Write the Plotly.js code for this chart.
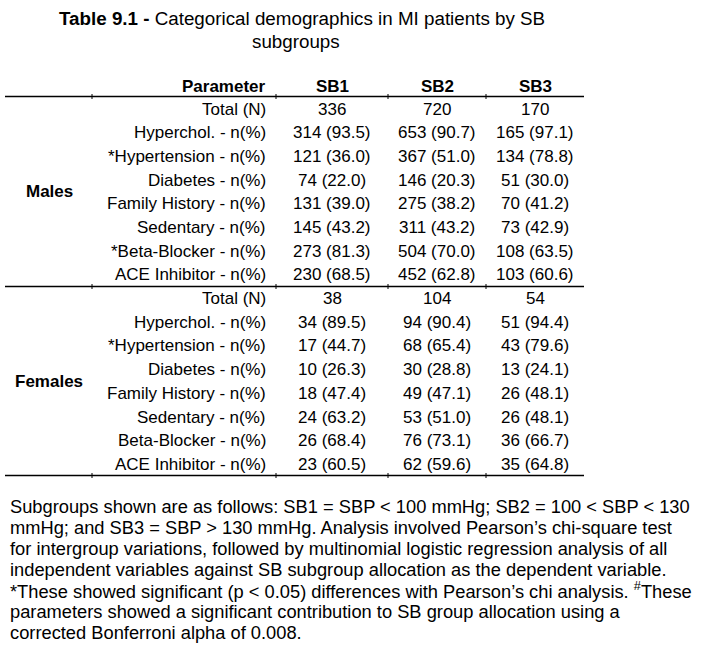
<!DOCTYPE html>
<html><head><meta charset="utf-8">
<script src="https://cdn.plot.ly/plotly-3.0.1.min.js"></script>
<style>body{margin:0;background:#fff}</style></head>
<body><div id="chart" style="width:708px;height:656px"></div>
<script>
const titleLine1 = "<b>Table 9.1 -</b> Categorical demographics in MI patients by SB";
const titleLine2 = "subgroups";
const columns = ["Parameter", "SB1", "SB2", "SB3"];
const groups = ["Males", "Females"];
const maleParams = ["Total (N)", "Hyperchol. - n(%)", "*Hypertension - n(%)", "Diabetes - n(%)", "Family History - n(%)", "Sedentary - n(%)", "*Beta-Blocker - n(%)", "ACE Inhibitor - n(%)"];
const femaleParams = ["Total (N)", "Hyperchol. - n(%)", "*Hypertension - n(%)", "Diabetes - n(%)", "Family History - n(%)", "Sedentary - n(%)", "Beta-Blocker - n(%)", "ACE Inhibitor - n(%)"];
const maleSB1 = ["336", "314 (93.5)", "121 (36.0)", "74 (22.0)", "131 (39.0)", "145 (43.2)", "273 (81.3)", "230 (68.5)"];
const maleSB2 = ["720", "653 (90.7)", "367 (51.0)", "146 (20.3)", "275 (38.2)", "311 (43.2)", "504 (70.0)", "452 (62.8)"];
const maleSB3 = ["170", "165 (97.1)", "134 (78.8)", "51 (30.0)", "70 (41.2)", "73 (42.9)", "108 (63.5)", "103 (60.6)"];
const femaleSB1 = ["38", "34 (89.5)", "17 (44.7)", "10 (26.3)", "18 (47.4)", "24 (63.2)", "26 (68.4)", "23 (60.5)"];
const femaleSB2 = ["104", "94 (90.4)", "68 (65.4)", "30 (28.8)", "49 (47.1)", "53 (51.0)", "76 (73.1)", "62 (59.6)"];
const femaleSB3 = ["54", "51 (94.4)", "43 (79.6)", "13 (24.1)", "26 (48.1)", "26 (48.1)", "36 (66.7)", "35 (64.8)"];
const footnoteLines = [
  "Subgroups shown are as follows: SB1 = SBP < 100 mmHg; SB2 = 100 < SBP < 130",
  "mmHg; and SB3 = SBP > 130 mmHg. Analysis involved Pearson\u2019s chi-square test",
  "for intergroup variations, followed by multinomial logistic regression analysis of all",
  "independent variables against SB subgroup allocation as the dependent variable.",
  "*These showed significant (p < 0.05) differences with Pearson\u2019s chi analysis. <sup>#</sup>These",
  "parameters showed a significant contribution to SB group allocation using a",
  "corrected Bonferroni alpha of 0.008."
];

const FONT = "Liberation Sans, Arial, sans-serif";
const fs = 17;
const ann = [];
function t(x, y, text, anchor, size, bold) {
  ann.push({x: x, y: y, xref: "x", yref: "y", text: bold ? "<b>" + text + "</b>" : text,
    showarrow: false, xanchor: anchor, yanchor: "middle",
    font: {family: FONT, size: size || fs, color: "#000"}});
}
// title
t(302, 18, titleLine1, "center", 18.8);
t(296, 41, titleLine2, "center", 18.8);
// header
const colX = [268, 332, 437, 535];
columns.forEach((c, i) => t(colX[i], 86, c, i === 0 ? "right" : "center", fs, true));
// rows
const rowStep = 23.7;
const blocks = [
  {y0: 109, params: maleParams, v: [maleSB1, maleSB2, maleSB3], label: groups[0], ly: 191},
  {y0: 298.5, params: femaleParams, v: [femaleSB1, femaleSB2, femaleSB3], label: groups[1], ly: 381}
];
blocks.forEach(b => {
  t(49, b.ly, b.label, "center", fs, true);
  b.params.forEach((p, i) => {
    const y = b.y0 + i * rowStep;
    t(colX[0], y, p, "right");
    b.v.forEach((col, j) => t(colX[j + 1], y, col[i], "center"));
  });
});
// footnote
footnoteLines.forEach((l, i) => ann.push({x: 8, y: 506 + i * 21.1, xref: "x", yref: "y", text: l,
  showarrow: false, xanchor: "left", yanchor: "middle", font: {family: FONT, size: 18.3, color: "#000"}}));

const shapes = [];
const lineY = [96.5, 286.5, 475.5];
const tickX = [92, 276, 388, 486];
lineY.forEach(y => {
  shapes.push({type: "line", xref: "x", yref: "y", x0: 5, x1: 584, y0: y, y1: y, line: {color: "#000", width: 1.5}});
  tickX.forEach(x => shapes.push({type: "line", xref: "x", yref: "y", x0: x, x1: x, y0: y - 2.5, y1: y + 2.5, line: {color: "#000", width: 1}}));
});

Plotly.newPlot("chart", [], {
  width: 708, height: 656,
  margin: {l: 0, r: 0, t: 0, b: 0},
  paper_bgcolor: "#fff", plot_bgcolor: "#fff",
  xaxis: {range: [0, 708], visible: false, fixedrange: true},
  yaxis: {range: [656, 0], visible: false, fixedrange: true},
  showlegend: false,
  annotations: ann, shapes: shapes
}, {displayModeBar: false, staticPlot: true});
</script></body></html>
